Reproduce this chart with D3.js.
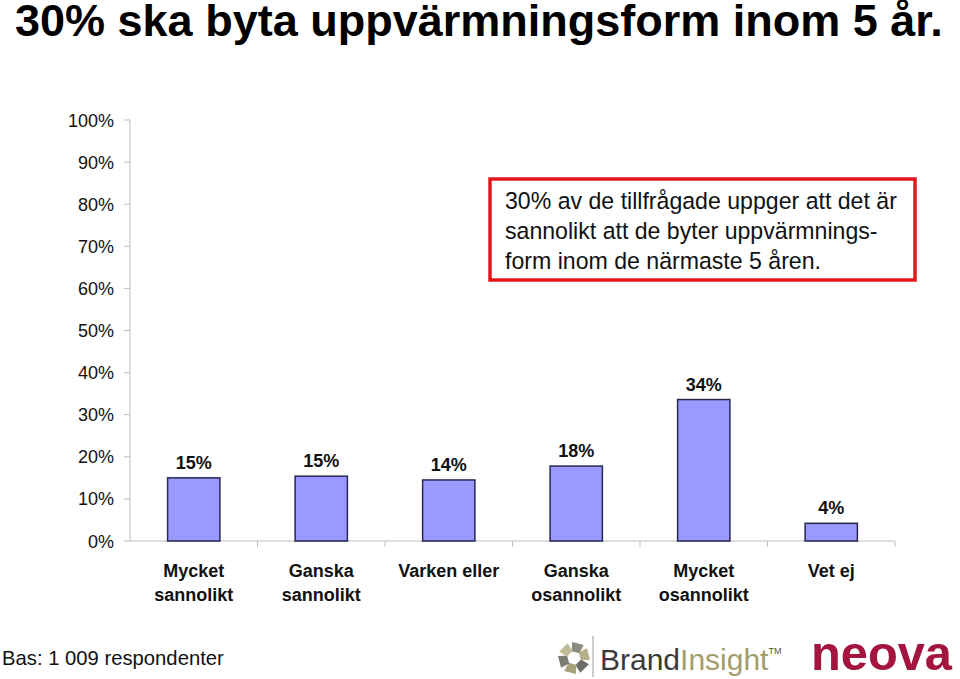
<!DOCTYPE html>
<html><head><meta charset="utf-8">
<script src="https://cdn.jsdelivr.net/npm/d3@7"></script>
<style>body{margin:0;background:#fff}svg{display:block}text{font-family:"Liberation Sans",Arial,Helvetica,sans-serif}</style>
</head><body>
<script>
const categories = [["Mycket","sannolikt"],["Ganska","sannolikt"],["Varken eller"],["Ganska","osannolikt"],["Mycket","osannolikt"],["Vet ej"]];
const values = [15.0, 15.4, 14.5, 17.8, 33.6, 4.2];
const valueLabels = ["15%","15%","14%","18%","34%","4%"];
const yTicks = [0,10,20,30,40,50,60,70,80,90,100];
const title = "30% ska byta uppvärmningsform inom 5 år.";
const boxLines = ["30% av de tillfrågade uppger att det är","sannolikt att de byter uppvärmnings-","form inom de närmaste 5 åren."];
const footnote = "Bas: 1 009 respondenter";

const W=960,H=679;
const svg=d3.select("body").append("svg").attr("width",W).attr("height",H);
function fit(sel,target){const w=sel.node().getComputedTextLength();const fs=parseFloat(sel.attr("font-size"));const n=fs*target/w;sel.attr("font-size",n);return n;}

const t=svg.append("text").attr("x",15).attr("y",36).attr("font-size",38).attr("font-weight","bold").attr("fill","#000").text(title);
fit(t,928);

const x=d3.scaleBand().domain(d3.range(categories.length)).range([130,895]).paddingInner(0.59).paddingOuter(0.295);
const xb=d3.scaleBand().domain(d3.range(categories.length)).range([130,895]);
const y=d3.scaleLinear().domain([0,100]).range([541,120]);

// y axis
const ya=svg.append("g");
ya.append("line").attr("x1",130).attr("x2",130).attr("y1",y(100)).attr("y2",y(0)).attr("stroke","#bdbdbd");
yTicks.forEach(v=>{
  ya.append("line").attr("x1",124).attr("x2",130).attr("y1",y(v)).attr("y2",y(v)).attr("stroke","#bdbdbd");
  ya.append("text").attr("x",114).attr("y",y(v)+6.5).attr("text-anchor","end").attr("font-size",18).attr("fill","#111").text(v+"%");
});
// x axis
svg.append("line").attr("x1",130).attr("x2",895).attr("y1",y(0)).attr("y2",y(0)).attr("stroke","#bdbdbd");
d3.range(categories.length).forEach(i=>{
  const bx=xb(i)+xb.bandwidth();
  svg.append("line").attr("x1",bx).attr("x2",bx).attr("y1",y(0)).attr("y2",y(0)+6).attr("stroke","#bdbdbd");
});

// bars
svg.selectAll("rect.bar").data(values).join("rect").attr("class","bar")
  .attr("x",(d,i)=>x(i)).attr("width",x.bandwidth())
  .attr("y",d=>y(d)).attr("height",d=>y(0)-y(d))
  .attr("fill","#9999ff").attr("stroke","#27274f").attr("stroke-width",1.5);
svg.selectAll("text.vl").data(values).join("text").attr("class","vl")
  .attr("x",(d,i)=>x(i)+x.bandwidth()/2).attr("y",d=>y(d)-9)
  .attr("text-anchor","middle").attr("font-size",18).attr("font-weight","bold").attr("fill","#111")
  .text((d,i)=>valueLabels[i]);

// category labels
categories.forEach((lines,i)=>{
  lines.forEach((l,j)=>{
    svg.append("text").attr("x",xb(i)+xb.bandwidth()/2).attr("y",577+j*23.5)
      .attr("text-anchor","middle").attr("font-size",18).attr("font-weight","bold").attr("fill","#111").text(l);
  });
});

// annotation box
svg.append("rect").attr("x",490).attr("y",179).attr("width",425).attr("height",101)
  .attr("fill","#fff").attr("stroke","#e3161c").attr("stroke-width",3.5);
let boxFs=20;
boxLines.forEach((l,j)=>{
  const tt=svg.append("text").attr("x",505).attr("y",209+j*30).attr("font-size",boxFs).attr("fill","#111").text(l);
  if(j===0) boxFs=fit(tt,392);
});

// footnote
const fn=svg.append("text").attr("x",2).attr("y",665).attr("font-size",20).attr("fill","#111").text(footnote);
fit(fn,222);

// BrandInsight logo
const lg=svg.append("g").attr("transform","translate(574,658)");
const shades=["#8a8a80","#b5b08a","#6d6d66","#a7a27a","#7d7d74","#c2bd98"];
d3.range(6).forEach(k=>{
  lg.append("path").attr("d","M-4,-6 L4,-6 L6,-15 L-6,-15 Z")
    .attr("transform","rotate("+(k*60+15)+")").attr("fill",shades[k]);
});
svg.append("line").attr("x1",593).attr("x2",593).attr("y1",636).attr("y2",677).attr("stroke","#999").attr("stroke-width",1);
const bt=svg.append("text").attr("x",600).attr("y",670).attr("font-size",30).attr("font-family","'Open Sans',sans-serif");
bt.append("tspan").attr("fill","#3a3a3a").text("Brand");
bt.append("tspan").attr("fill","#a39d6c").text("Insight");
bt.append("tspan").attr("fill","#555").attr("font-size",9).attr("dy",-16).text("TM");
// neova logo
const nv=svg.append("text").attr("x",811).attr("y",670).attr("font-size",48).attr("font-weight","bold")
  .attr("fill","#a3143f").attr("font-family","'DejaVu Sans',sans-serif").text("neova");
fit(nv,141);
</script>
</body></html>
